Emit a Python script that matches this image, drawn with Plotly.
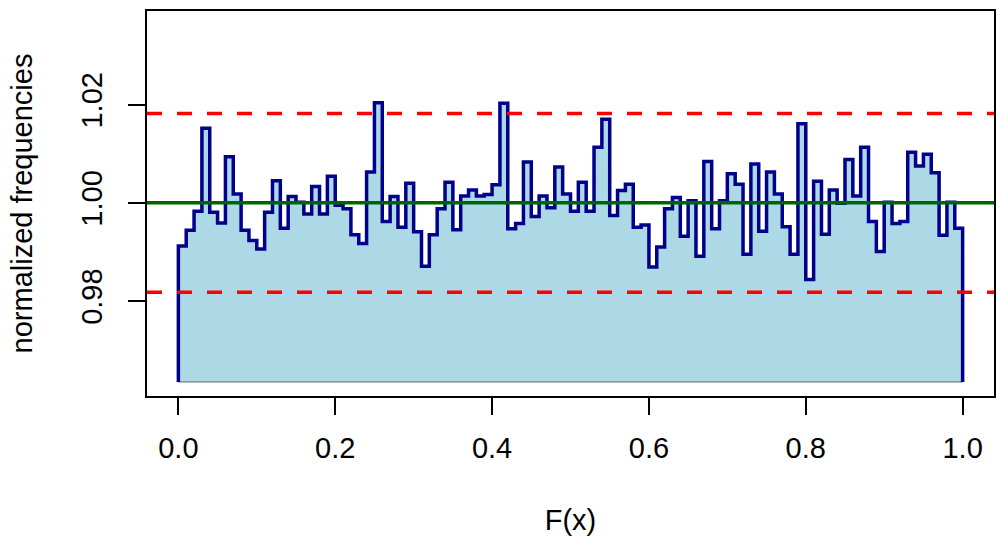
import numpy as np
import plotly.graph_objects as go

# normalized frequencies of 100 equal-width bins on F(x) in [0, 1]
freq = [
    0.9912, 0.9944, 0.9983, 1.0152, 0.9981, 0.9959, 1.0094, 1.0018, 0.9944, 0.9923,
    0.9906, 0.9981, 1.0045, 0.9948, 1.0013, 1.0001, 0.9977, 1.0033, 0.9977, 1.0054,
    0.9995, 0.9988, 0.9935, 0.9917, 1.0063, 1.0204, 0.9962, 1.0013, 0.9950, 1.0040,
    0.9941, 0.9871, 0.9935, 0.9988, 1.0042, 0.9945, 1.0014, 1.0026, 1.0014, 1.0017,
    1.0037, 1.0203, 0.9947, 0.9958, 1.0083, 0.9972, 1.0014, 0.9990, 1.0073, 1.0018,
    0.9983, 1.0042, 0.9983, 1.0113, 1.0170, 0.9974, 1.0025, 1.0038, 0.9950, 0.9955,
    0.9869, 0.9910, 0.9988, 1.0011, 0.9932, 1.0004, 0.9891, 1.0084, 0.9947, 1.0004,
    1.0059, 1.0038, 0.9895, 1.0079, 0.9942, 1.0063, 1.0018, 0.9951, 0.9895, 1.0161,
    0.9844, 1.0044, 0.9936, 1.0026, 0.9999, 1.0088, 1.0014, 1.0113, 0.9962, 0.9901,
    1.0001, 0.9958, 0.9962, 1.0103, 1.0075, 1.0099, 1.0061, 0.9934, 1.0001, 0.9948,
]
expected = 1.0
band = 0.0182
y_base = 0.9635
y_lim = [0.96064, 1.03908]
x_lim = [-0.04, 1.04]
x_ticks = [0.0, 0.2, 0.4, 0.6, 0.8, 1.0]
x_ticklabels = ["0.0", "0.2", "0.4", "0.6", "0.8", "1.0"]
y_ticks = [0.98, 1.00, 1.02]
y_ticklabels = ["0.98", "1.00", "1.02"]

n = len(freq)
edges = np.linspace(0.0, 1.0, n + 1)
xs = [edges[0]]
ys = [y_base]
for i, v in enumerate(freq):
    xs += [edges[i], edges[i + 1]]
    ys += [v, v]
xs.append(edges[-1])
ys.append(y_base)

FONT = "Liberation Sans, Arial, Helvetica, sans-serif"

fig = go.Figure()
fig.add_trace(go.Scatter(
    x=xs + [xs[0]], y=ys + [ys[0]], mode="lines", fill="toself",
    fillcolor="#ADD8E6", line=dict(color="#666666", width=1),
    hoverinfo="skip", showlegend=False))
fig.add_trace(go.Scatter(
    x=xs, y=ys, mode="lines",
    line=dict(color="#00008B", width=3.5, shape="linear"),
    showlegend=False))

fig.add_shape(type="line", xref="x domain", yref="y", x0=0, x1=1,
              y0=expected, y1=expected, line=dict(color="#006400", width=3.5))
for yy in (expected - band, expected + band):
    fig.add_shape(type="line", xref="x domain", yref="y", x0=0, x1=1,
                  y0=yy, y1=yy, line=dict(color="#FF0000", width=3.5, dash="15px,15px"))

axis_common = dict(showgrid=False, zeroline=False, showline=True, mirror=True,
                   linecolor="black", linewidth=1.5, ticks="outside", ticklen=17,
                   tickwidth=1.5, tickcolor="black",
                   tickfont=dict(family=FONT, size=29, color="black"))

fig.update_layout(
    width=997, height=545,
    margin=dict(l=147, r=1, t=11, b=149),
    paper_bgcolor="white", plot_bgcolor="white",
    font=dict(family=FONT, size=29, color="black"),
    xaxis=dict(range=x_lim, tickvals=x_ticks, ticktext=x_ticklabels,
               ticklabelstandoff=8,
               title=dict(text="F(x)", standoff=47,
                          font=dict(family=FONT, size=29, color="black")),
               **axis_common),
    yaxis=dict(range=y_lim, tickvals=y_ticks, ticktext=y_ticklabels, tickangle=-90,
               ticklabelstandoff=15,
               title=dict(text="normalized frequencies", standoff=35,
                          font=dict(family=FONT, size=29, color="black")),
               **axis_common),
)

fig.write_html("out.html")
